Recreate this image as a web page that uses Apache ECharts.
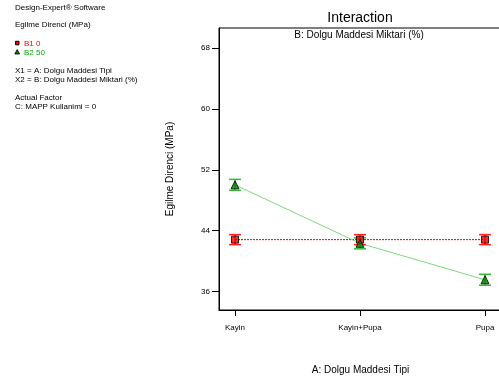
<!DOCTYPE html>
<html><head><meta charset="utf-8">
<script src="https://cdn.jsdelivr.net/npm/echarts@6/dist/echarts.min.js"></script>
<style>html,body{margin:0;padding:0;background:#fff}#c{width:499px;height:376px}</style>
</head><body><div id="c"></div>
<script>
var categories = ['Kayin', 'Kayin+Pupa', 'Pupa'];
var b1Values = [42.82, 42.82, 42.82];
var b2Values = [50.03, 42.33, 37.54];
var b1Err = [0.66, 0.66, 0.66];
var b2Err = [0.72, 0.72, 0.72];
var yTicks = [36, 44, 52, 60, 68];

var FONT = 'Liberation Sans, Arial, sans-serif';
var chart = echarts.init(document.getElementById('c'));

function errSeries(vals, errs, color) {
  return {
    type: 'custom',
    data: vals.map(function (v, i) { return [i, v, errs[i]]; }),
    z: 3,
    renderItem: function (params, api) {
      var x = api.value(0), y = api.value(1), e = api.value(2);
      var top = api.coord([x, y + e]);
      var bot = api.coord([x, y - e]);
      var hw = 6;
      var st = { stroke: color, lineWidth: 1.5 };
      return {
        type: 'group',
        children: [
          { type: 'line', shape: { x1: top[0], y1: top[1], x2: bot[0], y2: bot[1] }, style: st },
          { type: 'line', shape: { x1: top[0] - hw, y1: top[1], x2: top[0] + hw, y2: top[1] }, style: st },
          { type: 'line', shape: { x1: bot[0] - hw, y1: bot[1], x2: bot[0] + hw, y2: bot[1] }, style: st }
        ]
      };
    }
  };
}

var leftTexts = [
  { t: 'Design-Expert® Software', y: 7.5, c: '#000' },
  { t: 'Egilme Direnci (MPa)', y: 25, c: '#000' },
  { t: 'B1 0', y: 43.3, c: '#ff0000', x: 24 },
  { t: 'B2 50', y: 52.3, c: '#00b000', x: 24 },
  { t: 'X1 = A: Dolgu Maddesi Tipi', y: 70.7, c: '#000' },
  { t: 'X2 = B: Dolgu Maddesi Miktari (%)', y: 80, c: '#000' },
  { t: 'Actual Factor', y: 97.3, c: '#000' },
  { t: 'C: MAPP Kullanimi = 0', y: 106.7, c: '#000' }
];
var graphics = leftTexts.map(function (o) {
  return { type: 'text', x: o.x || 15, y: o.y,
    style: { text: o.t, fill: o.c, font: '8px ' + FONT, textVerticalAlign: 'middle' } };
});
graphics.push({ type: 'rect', shape: { x: 15.5, y: 41.3, width: 3.5, height: 3.5 },
  style: { fill: '#ff0000', stroke: '#000', lineWidth: 1 } });
graphics.push({ type: 'polygon', shape: { points: [[17.2, 49.5], [14.8, 54], [19.6, 54]] },
  style: { fill: '#008000', stroke: '#000', lineWidth: 0.8 } });
graphics.push({ type: 'text', x: 360, y: 18,
  style: { text: 'Interaction', font: '14px ' + FONT, fill: '#000', textAlign: 'center', textVerticalAlign: 'middle' } });
graphics.push({ type: 'text', x: 359, y: 35,
  style: { text: 'B: Dolgu Maddesi Miktari (%)', font: '10px ' + FONT, fill: '#000', textAlign: 'center', textVerticalAlign: 'middle' } });

chart.setOption({
  animation: false,
  backgroundColor: '#fff',
  textStyle: { fontFamily: FONT },
  grid: { left: 219, top: 28, bottom: 66, right: -3, show: true, borderColor: '#000', borderWidth: 1,
    containLabel: false, outerBoundsMode: 'none' },
  xAxis: {
    type: 'value', min: -0.128, max: 2.136,
    splitLine: { show: false },
    axisLine: { show: true, onZero: false, lineStyle: { color: '#000', width: 1 } },
    axisTick: { show: true, customValues: [0, 1, 2], length: 6, lineStyle: { color: '#000' } },
    axisLabel: { customValues: [0, 1, 2], margin: 14, fontSize: 8, color: '#000',
      formatter: function (v) { return categories[Math.round(v)]; } },
    name: 'A: Dolgu Maddesi Tipi', nameLocation: 'middle', nameGap: 55,
    nameTextStyle: { fontSize: 10, color: '#000' }
  },
  yAxis: {
    type: 'value', min: 33.56, max: 70.67,
    splitLine: { show: false },
    axisLine: { show: true, onZero: false, lineStyle: { color: '#000', width: 1 } },
    axisTick: { show: true, customValues: yTicks, length: 7, lineStyle: { color: '#000' } },
    axisLabel: { customValues: yTicks, margin: 9, fontSize: 8, color: '#000' },
    name: 'Egilme Direnci (MPa)', nameLocation: 'middle', nameGap: 44,
    nameTextStyle: { fontSize: 10, color: '#000' }
  },
  graphic: graphics,
  series: [
    { type: 'line', data: b1Values.map(function (v, i) { return [i, v]; }), z: 2,
      lineStyle: { color: '#e00000', width: 1, type: [2, 1] }, symbol: 'none' },
    { type: 'line', data: b2Values.map(function (v, i) { return [i, v]; }), z: 2,
      lineStyle: { color: '#80d880', width: 1 }, symbol: 'none' },
    errSeries(b1Values, b1Err, '#ff2020'),
    errSeries(b2Values, b2Err, '#33bb33'),
    { type: 'scatter', data: b1Values.map(function (v, i) { return [i, v]; }), z: 5,
      symbol: 'rect', symbolSize: 7, itemStyle: { color: '#ee0000', borderColor: '#000', borderWidth: 1 } },
    { type: 'scatter', data: b2Values.map(function (v, i) { return [i, v]; }), z: 6,
      symbol: 'triangle', symbolSize: 8, itemStyle: { color: '#008000', borderColor: '#000', borderWidth: 1 } }
  ]
});
</script></body></html>
